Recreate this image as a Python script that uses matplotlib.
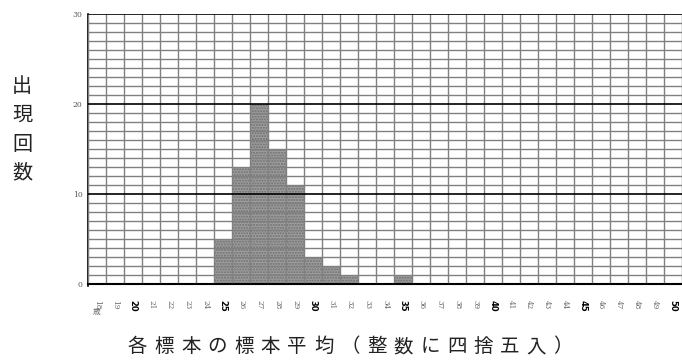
import numpy as np
import matplotlib.pyplot as plt

plt.rcParams['font.family'] = ['Noto Sans CJK JP', 'DejaVu Sans']

# data
ages = list(range(18, 51))
counts_age = [25, 26, 27, 28, 29, 30, 31, 32, 35]
counts = [5, 13, 20, 15, 11, 3, 2, 1, 1]

tick_labels = [str(a) for a in ages]
y_ticks = [0, 10, 20, 30]
y_title = '出現回数'
x_title = '各標本の標本平均（整数に四捨五入）'

W, H = 682, 362
fig = plt.figure(figsize=(W / 100, H / 100), dpi=100)
ax = fig.add_axes([88 / W, 1 - 284 / H, 594 / W, 270 / H])

idx = [ages.index(a) for a in counts_age]
ax.bar(idx, counts, width=1.0, color='#9e9e9e', edgecolor='#6e6e6e',
       hatch='......', linewidth=0, zorder=1)

ax.set_xlim(-0.5, len(ages) - 0.5)
ax.set_ylim(0, 30)

# grid: gray every unit, black every 10
ax.set_xticks(np.arange(-0.5, len(ages)), minor=True)
ax.set_yticks(np.arange(0, 31), minor=True)
ax.grid(which='minor', color='#808080', linewidth=1.0, zorder=2)
ax.set_axisbelow(False)
for y in y_ticks:
    ax.axhline(y, color='black', linewidth=1.2, zorder=3)

ax.set_yticks(y_ticks)
ax.set_yticklabels([str(y) for y in y_ticks], fontsize=5.5, color='#555555',
                   family='DejaVu Serif')
ax.tick_params(axis='both', which='both', length=0)
ax.tick_params(axis='y', pad=4)

ax.set_xticks(range(len(ages)))
ax.set_xticklabels(tick_labels, rotation=-90, va='top', ha='center',
                   fontsize=5.2, color='#666666', family='DejaVu Serif')
for lab, a in zip(ax.get_xticklabels(), ages):
    if a % 5 == 0:
        lab.set_fontweight('bold')
        lab.set_fontsize(6)
        lab.set_color('black')
        lab.set_family('DejaVu Sans')
ax.tick_params(axis='x', pad=11.5)
ax.text(0, -0.104, '歳', transform=ax.get_xaxis_transform(), fontsize=5.5,
        color='#666666', ha='center', va='center')

for s in ['top', 'right']:
    ax.spines[s].set_visible(False)
ax.spines['left'].set_linewidth(1.2)
ax.spines['left'].set_bounds(-0.25, 30)
ax.spines['bottom'].set_linewidth(1.5)

# vertical y title, one character per line
for i, ch in enumerate(y_title):
    fig.text(22 / W, 1 - (87 + 28.5 * i) / H, ch, fontsize=14.5,
             ha='center', va='center', color='#222222')

# letter-spaced x title
for i, ch in enumerate(x_title):
    fig.text((137.5 + 26.6 * i) / W, 1 - 346.5 / H, ch, fontsize=14,
             ha='center', va='center', color='#222222')

fig.savefig('out.png', dpi=100)
